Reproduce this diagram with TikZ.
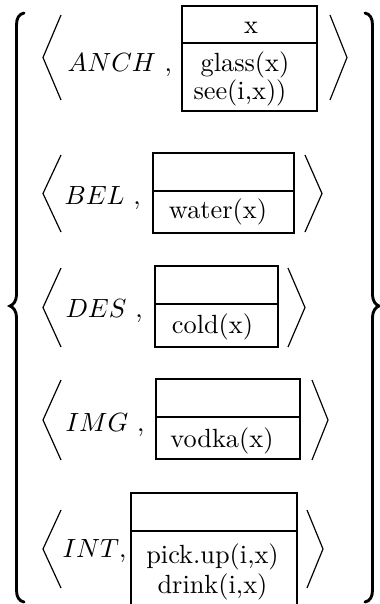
\documentclass[tikz,border=0pt]{standalone}
\begin{document}
\begin{tikzpicture}[x=0.38pt,y=-0.38pt,
  lbl/.style={anchor=base west, inner sep=0pt},
  txt/.style={anchor=base, inner sep=0pt},
  frame/.style={draw, line width=0.4pt},
  ang/.style={line width=0.45pt},
  bracepath/.style={line width=1.1pt, line cap=round}]
\useasboundingbox (0,0) rectangle (380,604);
% outer braces
\draw[bracepath] (24,13) .. controls (19,14) and (16.5,18) .. (16.5,25) -- (16.5,295)
  .. controls (16.5,301) and (13,305) .. (10,306) .. controls (13,307) and (16.5,311) .. (16.5,317)
  -- (16.5,590) .. controls (16.5,597) and (19,601) .. (24,602);
\draw[bracepath] (365,13) .. controls (370,14) and (372.5,18) .. (372.5,25) -- (372.5,295)
  .. controls (372.5,301) and (376,305) .. (379,306) .. controls (376,307) and (372.5,311) .. (372.5,317)
  -- (372.5,590) .. controls (372.5,597) and (370,601) .. (365,602);
% row 1
\draw[ang] (61,15) -- (43,57.5) -- (61,100);
\draw[ang] (330,15) -- (347,57.5) -- (330,100);
\node[lbl] (l1) at (67,71) {$ANCH$ ,};
\draw[frame] (182,6) rectangle (317,111);
\draw[frame] (182,43) -- (317,43);
\node[txt] (h1) at (251,33) {x};
\node[txt] (a1) at (245,71) {glass(x)};
\node[txt] (b1) at (240,99) {see(i,x))};
% row 2
\draw[ang] (61,155) -- (43,193.5) -- (61,232);
\draw[ang] (305,155) -- (322,193.5) -- (305,232);
\node[lbl] (l2) at (64,204) {$BEL$ ,};
\draw[frame] (153,153) rectangle (294,233);
\draw[frame] (153,191) -- (294,191);
\node[txt] (a2) at (218,218) {water(x)};
% row 3
\draw[ang] (61,268) -- (43,307.5) -- (61,347);
\draw[ang] (288,268) -- (305,307.5) -- (288,347);
\node[lbl] (l3) at (65,317) {$DES$ ,};
\draw[frame] (155,266) rectangle (278,347);
\draw[frame] (155,304) -- (278,304);
\node[txt] (a3) at (212.5,333) {cold(x)};
% row 4
\draw[ang] (61,380) -- (43,420) -- (61,460);
\draw[ang] (312,380) -- (328,420) -- (312,460);
\node[lbl] (l4) at (65,431) {$IMG$ ,};
\draw[frame] (156,379) rectangle (300,459);
\draw[frame] (156,417) -- (300,417);
\node[txt] (a4) at (222,447) {vodka(x)};
% row 5
\draw[ang] (61,510) -- (43,549) -- (61,588);
\draw[ang] (307,510) -- (323,549) -- (307,588);
\node[lbl] (l5) at (62,557) {$INT$,};
\draw[frame] (131,610) -- (131,493) -- (297,493) -- (297,610);
\draw[frame] (131,531) -- (297,531);
\node[txt] (a5) at (212.5,563) {pick.up(i,x)};
\node[txt] (b5) at (212.5,593) {drink(i,x)};
\end{tikzpicture}
\end{document}
